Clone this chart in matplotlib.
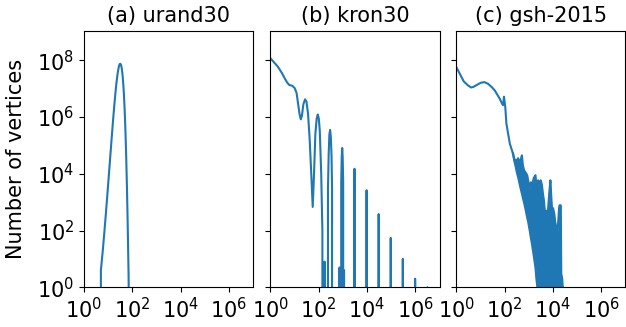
"""
Degree distributions of three graphs (log-log), one panel per graph.
Writes out.png
"""

import matplotlib

matplotlib.use("Agg")
import matplotlib.pyplot as plt
from matplotlib.ticker import NullLocator

# --------------------------------------------------------------------------- #
#  Data (degree -> number of vertices)
# --------------------------------------------------------------------------- #
titles = ["(a) urand30", "(b) kron30", "(c) gsh-2015"]

urand_deg = [4, 5, 6, 7, 8, 9, 10, 12, 14, 16, 18, 20, 22, 25, 28, 30, 32,
             34, 36, 38, 40, 43, 45, 48, 50, 53, 56, 60, 64, 67, 70, 71, 72]
urand_cnt = [0, 4, 20, 93, 371, 1318, 4220, 32700, 1.84e5, 7.85e5, 2.63e6,
             7.08e6, 1.57e7, 3.72e7, 6.21e7, 7.31e7, 7.55e7, 6.88e7, 5.6e7,
             4.07e7, 2.68e7, 1.19e7, 6.15e6, 1.94e6, 8.15e5, 1.9e5, 3.76e4,
             3380, 233, 26, 3, 1, 0]

kron_deg = [1, 2, 3, 4, 5, 6, 8, 10, 12, 14, 16, 18, 20, 23, 27, 31, 36, 42,
            50, 56, 63, 72, 82, 91, 100, 110, 126, 141, 150,
            170, 174, 178,
            224, 240, 257, 275, 295, 316, 338, 355, 380,
            700, 724, 750,
            813, 851, 891, 933, 977, 1023, 1072,
            1090, 1110, 1130,
            2884, 2951, 3020, 3090, 3162,
            9333, 9550, 9772,
            29510, 30200, 30900,
            93330, 95500, 97720,
            295100, 302000, 309000,
            955000, 977000, 1000000,
            3090000, 3162000, 3236000]
kron_cnt = [1.17e8, 6.0e7, 3.5e7, 2.2e7, 1.6e7, 1.35e7, 1.26e7, 1.05e7,
            7.1e6, 2.8e6, 1.26e6, 8.3e5, 1.1e6, 2.8e6, 4.2e6, 3.5e6, 1.26e6,
            1.6e5, 6300, 680, 8000, 2.5e5, 8.9e5, 1.23e6, 8.9e5, 3.2e5, 1e4,
            100, 0,
            0, 8, 0,
            0, 3e3, 5e4, 2.5e5, 3.5e5, 2.0e5, 4e4, 3e3, 0,
            0, 5, 0,
            0, 5e3, 4e4, 8.1e4, 4e4, 5e3, 0,
            0, 4, 0,
            0, 4e3, 1.5e4, 4e3, 0,
            0, 2630, 0,
            0, 380, 0,
            0, 55, 0,
            0, 10, 0,
            0, 2, 0,
            0, 1, 0]

# gsh-2015: smooth head, then a very noisy tail drawn as a band
gsh_deg = [1, 2, 3, 4, 5, 7, 10, 14, 20, 30, 39, 62, 80, 85, 93, 105, 117,
           162, 219]
gsh_cnt = [5.6e7, 1.8e7, 1.3e7, 1.1e7, 1.15e7, 1.35e7, 1.6e7, 1.7e7, 1.5e7,
           1.1e7, 8.5e6, 4.4e6, 2.8e6, 2.6e6, 5.2e6, 2.2e6, 5.8e5, 1.15e5,
           5.13e4]

gsh_tail_deg = [219, 257, 288, 316, 355, 380, 417, 457, 513, 562, 631, 724,
                851, 933, 1072, 1202, 1349, 1585, 1862, 2042, 2239, 2399,
                2754, 3090, 3467, 3802, 4169, 4786, 5370, 6026, 6918, 7762,
                8318, 8913, 10000, 11220, 12300, 13490, 14790, 15850, 17780,
                18620, 20890, 21880, 23990, 25120]
gsh_tail_hi = [51300, 28180, 31620, 22390, 35480, 30200, 19950, 31620, 44670,
               19950, 13180, 11220, 8913, 5623, 3162, 5012, 3981, 7079, 8913,
               3981, 3162, 5888, 4467, 5888, 3981, 1995, 1175, 316, 501, 398,
               1995, 5888, 1995, 676, 603, 398, 200, 135, 52, 135, 631, 776,
               776, 3, 2, 1]
gsh_tail_lo = [51300, 25120, 16600, 11220, 7762, 6026, 4169, 2951, 1995,
               1413, 955, 562, 282, 200, 102, 56, 32, 13, 5, 2, 1, 1, 1, 1, 1,
               1, 1, 1, 1, 1, 1, 1, 1, 1, 1, 1, 1, 1, 1, 1, 1, 1, 1, 1, 1, 1]

x_ticks = [1, 1e2, 1e4, 1e6]
y_ticks = [1, 1e2, 1e4, 1e6, 1e8]

FS = 15
BLUE = "#1f77b4"

# --------------------------------------------------------------------------- #
#  Figure
# --------------------------------------------------------------------------- #
fig = plt.figure(figsize=(6.26, 3.27), dpi=100)
lefts = [0.1342, 0.4321, 0.7292]
axes = [fig.add_axes([l, 0.1214, 0.2700, 0.7847]) for l in lefts]

axes[0].plot(urand_deg, urand_cnt, color=BLUE, lw=1.5)
axes[1].plot(kron_deg, kron_cnt, color=BLUE, lw=1.5)

ax = axes[2]
ax.plot(gsh_deg, gsh_cnt, color=BLUE, lw=1.5)
ax.fill_between(gsh_tail_deg, gsh_tail_lo, gsh_tail_hi, color=BLUE, lw=0)
ax.plot(gsh_tail_deg, gsh_tail_hi, color=BLUE, lw=1.5)
ax.plot(gsh_tail_deg, gsh_tail_lo, color=BLUE, lw=1.5)

for i, ax in enumerate(axes):
    ax.set_xscale("log")
    ax.set_yscale("log")
    ax.set_xlim(1, 1e7)
    ax.set_ylim(1, 1.1e9)
    ax.set_xticks(x_ticks)
    ax.set_yticks(y_ticks)
    ax.xaxis.set_minor_locator(NullLocator())
    ax.yaxis.set_minor_locator(NullLocator())
    ax.tick_params(labelsize=FS)
    ax.set_title(titles[i], fontsize=FS)
    if i > 0:
        ax.set_yticklabels([])

axes[0].set_ylabel("Number of vertices", fontsize=FS, labelpad=8)

fig.savefig("out.png", dpi=100)
